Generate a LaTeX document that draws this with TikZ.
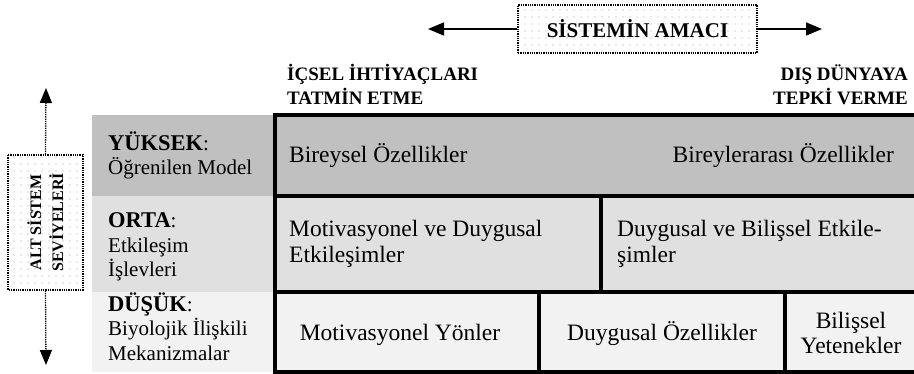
\documentclass[tikz,border=0pt]{standalone}
\usepackage{fontspec}
\setmainfont{Liberation Serif}
\usetikzlibrary{arrows.meta,patterns.meta}
\definecolor{rowhigh}{HTML}{C0C0C0}
\definecolor{rowmid}{HTML}{E0E0E0}
\definecolor{rowlow}{HTML}{F2F2F2}
\begin{document}
\begin{tikzpicture}[x=1pt,y=-1pt,
  bar/.style={line width=4pt, line join=miter},
  dotbox/.style={draw, densely dotted, line width=1.3pt,
    pattern={Dots[distance=7pt,radius=0.65pt]}, pattern color=black!35, inner sep=0pt},
  cell/.style={inner sep=0pt, font=\fontsize{23.5}{26}\selectfont},
  lefttext/.style={inner sep=0pt, anchor=base west, align=left, font=\fontsize{21}{24.5}\selectfont},
  heading/.style={inner sep=0pt, font=\fontsize{19}{24.5}\selectfont\bfseries},
  toparrow/.style={line width=1.6pt, -{Triangle[length=16pt,width=13pt]}},
  sidearrow/.style={line width=1.3pt, densely dotted, -{Triangle[length=15pt,width=12pt]}},
]
\useasboundingbox (0,0) rectangle (914,374);

% row fills
\fill[rowhigh] (92,115) rectangle (914,196);
\fill[rowmid] (92,196) rectangle (914,292);
\fill[rowlow] (92,292) rectangle (914,372);

% goal box and arrows
\node[dotbox, minimum width=239pt, minimum height=48pt,
      font=\fontsize{21}{24}\selectfont\bfseries] (goal) at (637.5,29) {SİSTEMİN AMACI};
\coordinate (lefttip) at (428,29);
\coordinate (righttip) at (822,29);
\draw[toparrow] (goal.west) -- (lefttip);
\draw[toparrow] (goal.east) -- (righttip);

% headings (base anchor = last line)
\node[heading, anchor=base west, align=left] (inner) at (287,105) {İÇSEL İHTİYAÇLARI\\TATMİN ETME};
\node[heading, anchor=base east, align=right] (outer) at (908,105) {DIŞ DÜNYAYA\\TEPKİ VERME};

% side label and arrows
\node[dotbox, rotate=90, minimum width=135pt, minimum height=75pt, align=center,
      font=\fontsize{16}{22}\selectfont\bfseries] (levels) at (45.5,222.5) {ALT SİSTEM\\SEVİYELERİ};
\coordinate (uptip) at (46,88);
\coordinate (downtip) at (46,365);
\draw[sidearrow] (levels.east) -- (uptip);
\draw[sidearrow] (levels.west) -- (downtip);

% left column (base anchor = last line)
\node[lefttext] (yuksek) at (108,175) {{\fontsize{22.5}{24.5}\selectfont\bfseries YÜKSEK}:\\Öğrenilen Model};
\node[lefttext] (orta) at (108,277) {{\fontsize{22.5}{24.5}\selectfont\bfseries ORTA}:\\Etkileşim\\İşlevleri};
\node[lefttext] (dusuk) at (108,360) {{\fontsize{22.5}{24.5}\selectfont\bfseries DÜŞÜK}:\\Biyolojik İlişkili\\Mekanizmalar};

% cells
\node[cell, anchor=base west] (bireysel) at (289,163) {Bireysel Özellikler};
\node[cell, anchor=base east] (bireylerarasi) at (894,163) {Bireylerarası Özellikler};
\node[cell, anchor=base west, align=left] (motduy) at (289,263) {Motivasyonel ve Duygusal\\Etkileşimler};
\node[cell, anchor=base west, align=left] (duybil) at (617,263) {Duygusal ve Bilişsel Etkile-\\şimler};
\node[cell, anchor=base] (motyon) at (400,341) {Motivasyonel Yönler};
\node[cell, anchor=base] (duyoz) at (662,341) {Duygusal Özellikler};
\node[cell, anchor=base, align=center, font=\fontsize{23.5}{25}\selectfont] (bilyet) at (851,354) {Bilişsel\\Yetenekler};

% thick grid lines
\draw[bar] (914,115) -- (274.5,115) -- (274.5,372) -- (914,372);
\draw[bar] (274.5,196) -- (914,196);
\draw[bar] (274.5,292) -- (914,292);
\draw[bar] (601,196) -- (601,292);
\draw[bar] (539,292) -- (539,372);
\draw[bar] (785,292) -- (785,372);
\end{tikzpicture}
\end{document}
